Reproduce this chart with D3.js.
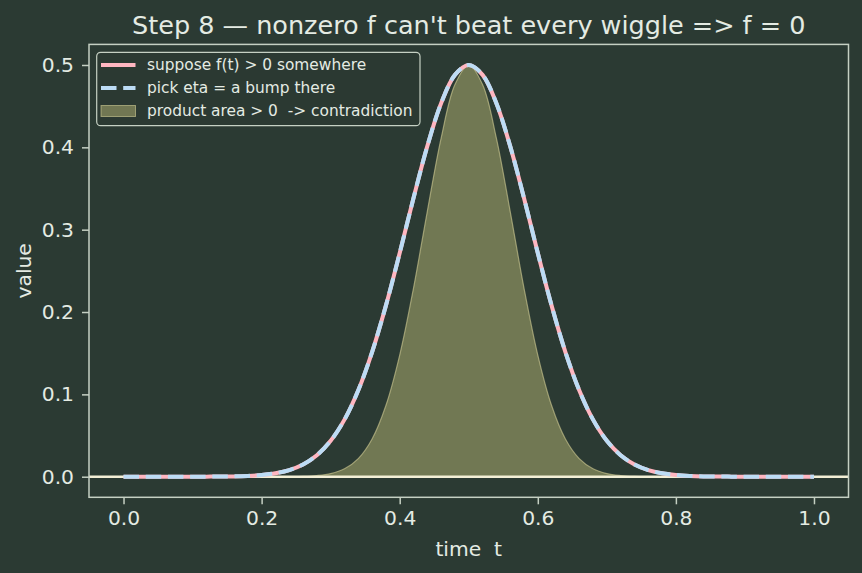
<!DOCTYPE html>
<html>
<head>
<meta charset="utf-8">
<title>Step 8</title>
<style>
  body { margin: 0; background: #2b3a33; }
  svg { display: block; font-family: "DejaVu Sans", sans-serif; }
</style>
</head>
<body>
<svg id="chart" width="862" height="573"></svg>
<script src="https://cdn.jsdelivr.net/npm/d3@7"></script>
<script>
// values, t = 0 .. 1 step 0.02
const tValues = d3.range(51).map(i => +(i * 0.02).toFixed(2));
// f(t) bump (the eta curve lies right on top of it)
const fHalf = [0.5, 0.4880, 0.4535, 0.4014, 0.3384, 0.2717, 0.2078, 0.1514, 0.1050, 0.0693,
               0.0436, 0.0261, 0.0149, 0.0081, 0.0042, 0.0021, 0.0010, 0.0004, 0.0002, 0.0001,
               0, 0, 0, 0, 0, 0];
// product f * eta (rescaled), narrower bump
const pHalf = [0.5, 0.4762, 0.4113, 0.3223, 0.2291, 0.1477, 0.0864, 0.0458, 0.0220, 0.0096,
               0.0038, 0.0014, 0.0004, 0.0001, 0, 0, 0, 0, 0, 0,
               0, 0, 0, 0, 0, 0];
const fValues = tValues.map((t, i) => fHalf[Math.abs(i - 25)]);
const etaValues = fValues.slice();
const productValues = tValues.map((t, i) => pHalf[Math.abs(i - 25)]);

const xTicks = [0, 0.2, 0.4, 0.6, 0.8, 1.0];
const yTicks = [0, 0.1, 0.2, 0.3, 0.4, 0.5];
const legendLabels = ["suppose f(t) > 0 somewhere", "pick eta = a bump there", "product area > 0  -> contradiction"];

const bg = "#2b3a33", fg = "#e4ebe3", spine = "#c5d0c3";
const pink = "#ffb6c1", blue = "#bcdcf5";
const dash = "15.5,6.7";

const svg = d3.select("#chart");
const L = 89, R = 848.5, T = 44.4, B = 497.3;

const x = d3.scaleLinear().domain([-0.05, 1.05]).range([L, R]);
const y = d3.scaleLinear().domain([-0.025, 0.525]).range([B, T]);

svg.append("rect").attr("width", 862).attr("height", 573).attr("fill", bg);

const line = d3.line().x(d => x(d[0])).y(d => y(d[1])).curve(d3.curveCatmullRom);
const area = d3.area().x(d => x(d[0])).y0(y(0)).y1(d => y(d[1])).curve(d3.curveCatmullRom);

const plot = svg.append("g");

// product fill
plot.append("path")
    .datum(tValues.map((t, i) => [t, productValues[i]]))
    .attr("d", area)
    .attr("fill", "#e6dd8a").attr("fill-opacity", 0.38)
    .attr("stroke", "#d3cf96").attr("stroke-opacity", 0.6).attr("stroke-width", 1.2);

// zero line
plot.append("line")
    .attr("x1", L).attr("x2", R).attr("y1", y(0)).attr("y2", y(0))
    .attr("stroke", "#f3efd6").attr("stroke-width", 2.4);

plot.append("path")
    .datum(tValues.map((t, i) => [t, fValues[i]]))
    .attr("d", line).attr("fill", "none")
    .attr("stroke", pink).attr("stroke-width", 4);

plot.append("path")
    .datum(tValues.map((t, i) => [t, etaValues[i]]))
    .attr("d", line).attr("fill", "none")
    .attr("stroke", blue).attr("stroke-width", 4)
    .attr("stroke-dasharray", dash);

// axes
const xAxis = svg.append("g").attr("transform", `translate(0,${B})`)
    .call(d3.axisBottom(x).tickValues(xTicks).tickFormat(d3.format(".1f")).tickSize(7).tickPadding(6));
const yAxis = svg.append("g").attr("transform", `translate(${L},0)`)
    .call(d3.axisLeft(y).tickValues(yTicks).tickFormat(d3.format(".1f")).tickSize(7).tickPadding(8));
[xAxis, yAxis].forEach(a => {
  a.select(".domain").remove();
  a.selectAll(".tick line").attr("stroke", spine).attr("stroke-width", 1.5);
  a.selectAll(".tick text").attr("fill", fg).attr("font-size", 20.3).attr("font-family", "DejaVu Sans");
});

// frame
svg.append("rect").attr("x", L).attr("y", T).attr("width", R - L).attr("height", B - T)
    .attr("fill", "none").attr("stroke", spine).attr("stroke-width", 1.5);

// title and labels
svg.append("text").attr("x", (L + R) / 2).attr("y", 33.5)
    .attr("text-anchor", "middle").attr("fill", fg).attr("font-size", 25.5)
    .text("Step 8 \u2014 nonzero f can't beat every wiggle => f = 0");
svg.append("text").attr("x", (L + R) / 2).attr("y", 556)
    .attr("text-anchor", "middle").attr("fill", fg).attr("font-size", 20.3)
    .style("white-space", "pre")
    .text("time  t");
svg.append("text").attr("transform", `translate(31,${(T + B) / 2}) rotate(-90)`)
    .attr("text-anchor", "middle").attr("fill", fg).attr("font-size", 20.3)
    .text("value");

// legend
const lg = svg.append("g");
lg.append("rect").attr("x", 96.7).attr("y", 52.3).attr("width", 323.3).attr("height", 73.4)
    .attr("rx", 4).attr("fill", bg).attr("fill-opacity", 0.85)
    .attr("stroke", spine).attr("stroke-width", 1.2);
const rowY = [65, 88, 111];
lg.append("line").attr("x1", 101).attr("x2", 135.5).attr("y1", rowY[0]).attr("y2", rowY[0])
    .attr("stroke", pink).attr("stroke-width", 4);
lg.append("line").attr("x1", 101).attr("x2", 135.5).attr("y1", rowY[1]).attr("y2", rowY[1])
    .attr("stroke", blue).attr("stroke-width", 4).attr("stroke-dasharray", dash);
lg.append("rect").attr("x", 101).attr("y", rowY[2] - 5.5).attr("width", 34.5).attr("height", 11)
    .attr("fill", "#e6dd8a").attr("fill-opacity", 0.38)
    .attr("stroke", "#d3cf96").attr("stroke-opacity", 0.6);
lg.selectAll("text.lbl").data(legendLabels).join("text")
    .attr("class", "lbl")
    .attr("x", 147).attr("y", (d, i) => rowY[i] + 5.3)
    .attr("fill", fg).attr("font-size", 15.4)
    .style("white-space", "pre")
    .text(d => d);
</script>
</body>
</html>
